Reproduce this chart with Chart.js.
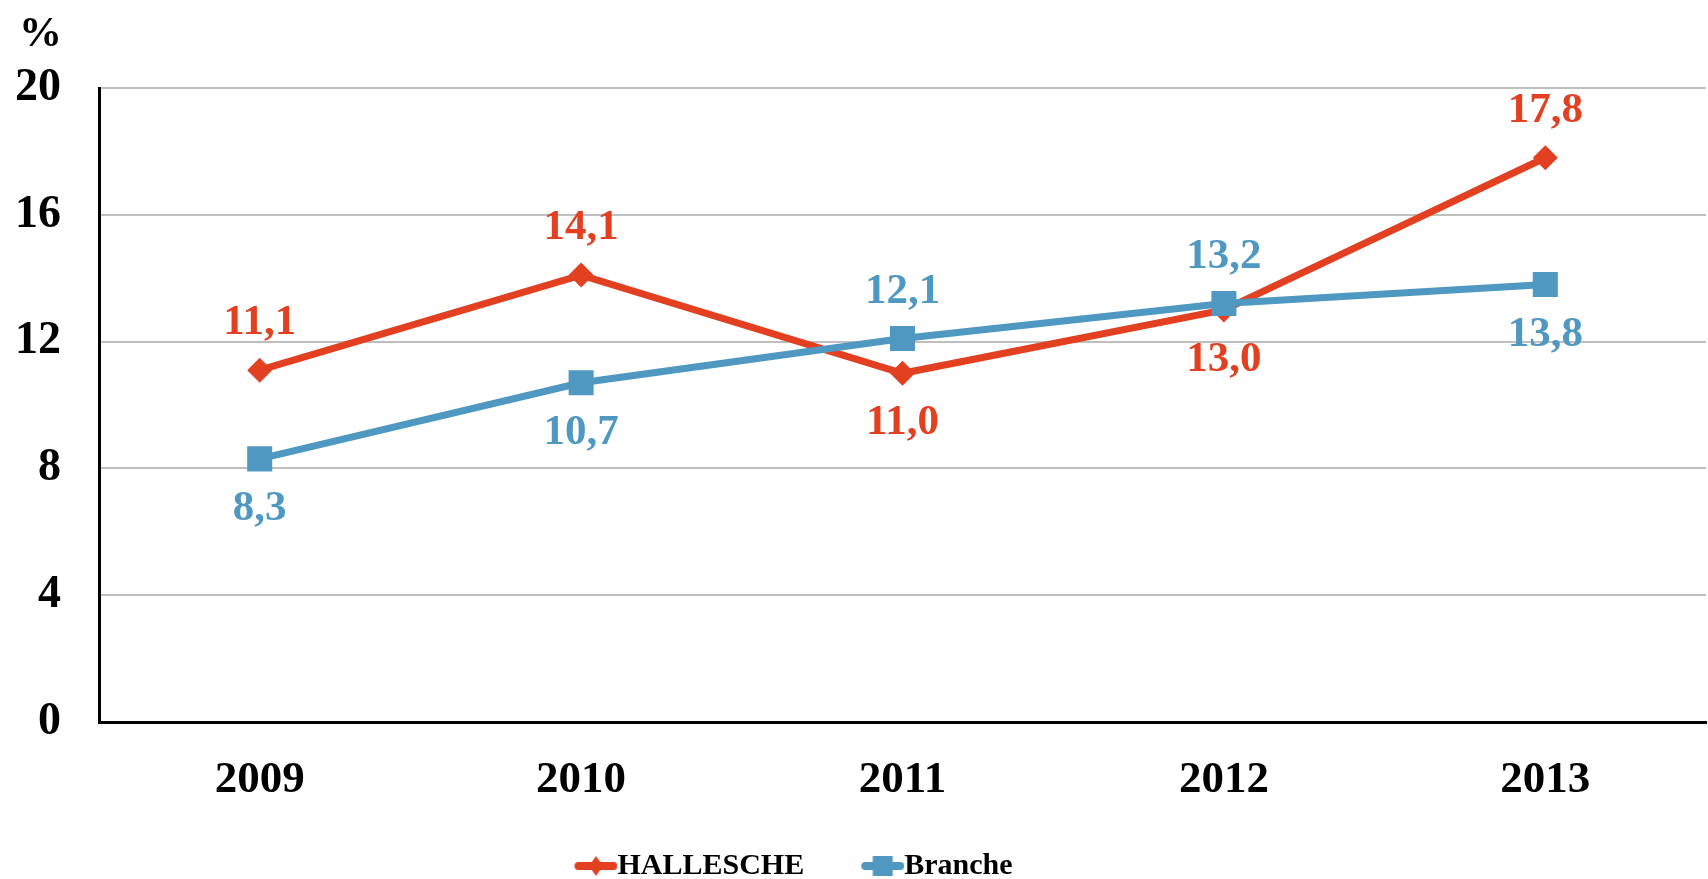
<!DOCTYPE html>
<html>
<head>
<meta charset="utf-8">
<script src="https://cdn.jsdelivr.net/npm/chart.js@4.4.1/dist/chart.umd.min.js"></script>
<style>
html,body{margin:0;padding:0;background:#fff;}
#wrap{width:1708px;height:879px;}
</style>
</head>
<body>
<div id="wrap"><canvas id="c" width="1708" height="879"></canvas></div>
<script>
const years = ['2009','2010','2011','2012','2013'];
const hallesche = [11.1, 14.1, 11.0, 13.0, 17.8];
const branche = [8.3, 10.7, 12.1, 13.2, 13.8];
const halleschePlace = ['above','above','below','below','above'];
const branchePlace = ['below','below','above','above','below'];
const yTicks = [0, 4, 8, 12, 16, 20];

const RED = '#E24020';
const BLUE = '#4F98C1';
const FONT = '"Liberation Serif", "Times New Roman", serif';

function legendSymbol(color, kind) {
  const c = document.createElement('canvas');
  const lw = 43, pad = 15;
  c.width = lw + 2 * pad; c.height = 24;
  const g = c.getContext('2d');
  const x0 = 2 * pad, cy = 12;
  g.strokeStyle = color; g.lineWidth = 8; g.lineCap = 'round';
  g.beginPath(); g.moveTo(x0 + 4, cy); g.lineTo(x0 + lw - 4, cy); g.stroke();
  g.fillStyle = color;
  const mx = x0 + lw / 2;
  if (kind === 'diamond') {
    g.beginPath(); g.moveTo(mx, cy - 10); g.lineTo(mx + 7, cy); g.lineTo(mx, cy + 10); g.lineTo(mx - 7, cy); g.closePath(); g.fill();
  } else {
    g.fillRect(mx - 10, cy - 10, 20, 20);
  }
  return c;
}
const symbols = [legendSymbol(RED, 'diamond'), legendSymbol(BLUE, 'square')];

const labelPlugin = {
  id: 'valueLabels',
  afterDatasetsDraw(chart) {
    const ctx = chart.ctx;
    const places = [halleschePlace, branchePlace];
    ctx.save();
    ctx.font = 'bold 43px ' + FONT;
    ctx.textAlign = 'center';
    ctx.textBaseline = 'middle';
    chart.data.datasets.forEach((ds, di) => {
      const meta = chart.getDatasetMeta(di);
      ctx.fillStyle = ds.borderColor;
      meta.data.forEach((pt, i) => {
        const off = places[di][i] === 'above' ? -47 : 50;
        ctx.fillText(ds.data[i].toFixed(1).replace('.', ','), pt.x, pt.y + off);
      });
    });
    const ys = chart.scales.y;
    ctx.fillStyle = '#000';
    ctx.textAlign = 'right';
    ctx.font = 'bold 43px ' + FONT;
    ctx.fillText('%', ys.right - 37, 35);
    ctx.restore();
  },
  afterLayout(chart) {
    const lg = chart.legend;
    if (lg) { lg.left -= 67; lg.right -= 67; lg.top += 12; lg.bottom += 12; }
  }
};

new Chart(document.getElementById('c'), {
  type: 'line',
  data: {
    labels: years,
    datasets: [
      {
        label: 'HALLESCHE', data: hallesche, borderColor: RED, backgroundColor: RED,
        borderWidth: 7, pointStyle: 'rectRot', pointRadius: 12.5, pointBorderWidth: 0,
        pointHoverRadius: 12.5, tension: 0, order: 1
      },
      {
        label: 'Branche', data: branche, borderColor: BLUE, backgroundColor: BLUE,
        borderWidth: 7, pointStyle: 'rect', pointRadius: 17.7, pointBorderWidth: 0,
        pointHoverRadius: 17.7, tension: 0, order: 0
      }
    ]
  },
  options: {
    responsive: false,
    animation: false,
    devicePixelRatio: 1,
    layout: { autoPadding: false, padding: { top: 88, right: 2, left: 0, bottom: 0 } },
    scales: {
      x: {
        offset: true,
        grid: { display: false, drawTicks: false },
        border: { display: true, color: '#000', width: 3 },
        ticks: { color: '#000', font: { family: FONT, size: 45, weight: 'bold' }, padding: 31 },
        afterFit(s) { s.height = 75; s.paddingLeft = 0; s.paddingRight = 0; }
      },
      y: {
        min: 0, max: 20,
        afterBuildTicks(s) { s.ticks = yTicks.map(v => ({ value: v })); },
        grid: { color: '#BFBFBF', lineWidth: 2, drawTicks: false },
        border: { display: true, color: '#000', width: 3 },
        ticks: { color: '#000', font: { family: FONT, size: 46, weight: 'bold' }, padding: 38 },
        afterFit(s) { s.width = 99; }
      }
    },
    plugins: {
      tooltip: { enabled: false },
      legend: {
        position: 'bottom',
        labels: {
          usePointStyle: true,
          pointStyleWidth: 43,
          padding: 42,
          color: '#000',
          font: { family: FONT, size: 30, weight: 'bold' },
          sort: (a, b) => a.datasetIndex - b.datasetIndex,
          generateLabels(chart) {
            const items = Chart.defaults.plugins.legend.labels.generateLabels(chart);
            items.forEach(it => { it.pointStyle = symbols[it.datasetIndex]; it.rotation = 0; });
            return items;
          }
        }
      }
    }
  },
  plugins: [labelPlugin]
});
</script>
</body>
</html>
